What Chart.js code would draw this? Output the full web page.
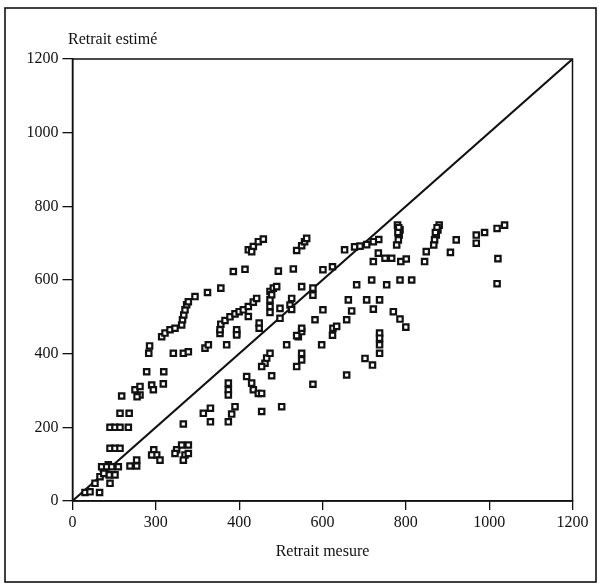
<!DOCTYPE html>
<html>
<head>
<meta charset="utf-8">
<script src="https://cdn.jsdelivr.net/npm/chart.js@4/dist/chart.umd.min.js"></script>
<style>
  html, body { margin: 0; padding: 0; background: #fff; }
  #wrap { width: 599px; height: 587px; }
</style>
</head>
<body>
<div id="wrap"><canvas id="retraitChart" width="599" height="587"></canvas></div>
<script>
// ---------------------------------------------------------
// DATA
// ---------------------------------------------------------
const measured = [
  30, 42, 54, 65, 66, 74, 86, 90, 88, 102, 110, 70, 82, 94, 75,
  90, 102, 114, 90, 102, 114, 134, 114, 136, 118, 138, 154, 154,
  150, 162, 162, 155, 178, 219, 190, 194, 218, 183, 185, 242, 266, 278,
  214, 222, 234, 246, 262, 264, 267, 270, 274, 278, 294, 324, 356, 386, 414,
  195, 202, 210, 190, 250, 262, 278, 270, 266, 246, 278, 266,
  314, 331, 331, 374, 374, 374, 390, 382, 374,
  418, 430, 434, 446, 454, 454, 502, 478, 462, 466, 474,
  538, 550, 550, 542, 550, 514, 577, 598,
  354, 370, 394, 318, 326, 356, 354, 366, 378, 390, 400, 410, 422, 434, 442,
  422, 394, 394, 448, 448,
  422, 434, 446, 458, 430, 538, 550, 557, 562, 494, 530, 601, 624,
  474, 482, 490, 474, 474, 474, 478, 498, 498, 526, 522, 526,
  550, 577, 577, 601, 582, 550, 538, 625, 634, 624,
  658, 670, 662, 682, 718, 754, 786, 814, 706, 737, 722, 770, 786, 800,
  653, 677, 690, 706, 722, 735,
  780, 786, 784, 782, 778, 880, 877, 873, 869, 867, 921, 907, 849, 845,
  734, 750, 766, 722, 788, 801,
  737, 737, 737, 737, 702, 720, 658,
  969, 989, 969, 1019, 1037, 1021, 1019, 454, 783, 875, 781, 871
];
const estimated = [
  23, 25, 48, 23, 66, 89, 98, 48, 71, 71, 93, 93, 93, 93, 75,
  143, 143, 143, 200, 200, 200, 200, 238, 238, 285, 95, 95, 111,
  302, 311, 288, 283, 351, 351, 315, 302, 318, 401, 421, 401, 401, 405,
  446, 456, 465, 469, 478, 492, 505, 519, 533, 541, 555, 566, 578, 623, 629,
  139, 125, 111, 125, 139, 152, 152, 125, 111, 129, 129, 209,
  238, 252, 215, 320, 302, 288, 256, 236, 215,
  338, 320, 302, 292, 292, 243, 256, 340, 374, 388, 401,
  365, 383, 401, 446, 460, 424, 317, 424,
  455, 424, 455, 415, 424, 480, 465, 490, 500, 508, 514, 519, 528, 540, 550,
  501, 465, 451, 483, 469,
  682, 691, 704, 711, 677, 680, 693, 704, 713, 624, 630, 628, 636,
  569, 578, 582, 546, 528, 512, 560, 523, 496, 550, 532, 520,
  582, 578, 559, 519, 492, 469, 449, 469, 474, 450,
  492, 516, 546, 587, 600, 587, 600, 600, 546, 546, 521, 514, 494, 472,
  682, 690, 692, 696, 704, 710,
  749, 736, 722, 709, 695, 749, 736, 722, 709, 695, 709, 675, 677, 650,
  673, 659, 659, 650, 650, 657,
  456, 442, 424, 401, 387, 369, 342,
  722, 729, 700, 740, 749, 658, 590, 365, 742, 742, 729, 729
];

// y = x reference line
const diagonal = [0, 1200];

// axis ticks (the original figure prints "300" under the 200 tick)
const tickValues = [0, 200, 400, 600, 800, 1000, 1200];
const xTickLabels = ['0', '300', '400', '600', '800', '1000', '1200'];
const yTickLabels = ['0', '200', '400', '600', '800', '1000', '1200'];

const yTitle = 'Retrait estimé';
const xTitle = 'Retrait mesure';

// ---------------------------------------------------------
// HELPERS
// ---------------------------------------------------------
const FONT = "'Liberation Serif', 'DejaVu Serif', serif";
const points = measured.map((x, i) => ({ x: x, y: estimated[i] }));
const diagPoints = diagonal.map(v => ({ x: v, y: v }));

// frame round the whole figure, box round the plot, and the two titles
const framePlugin = {
  id: 'frame',
  afterDraw(chart) {
    const ctx = chart.ctx;
    const a = chart.chartArea;
    ctx.save();
    ctx.strokeStyle = '#111';
    ctx.lineWidth = 1.6;
    ctx.strokeRect(5, 8, 591, 574);
    ctx.lineWidth = 1.5;
    ctx.strokeRect(a.left, a.top, a.right - a.left, a.bottom - a.top);

    ctx.fillStyle = '#111';
    ctx.font = '16px ' + FONT;
    ctx.textBaseline = 'middle';
    ctx.textAlign = 'left';
    ctx.fillText(yTitle, 68, 40);
    ctx.textAlign = 'center';
    ctx.fillText(xTitle, (a.left + a.right) / 2, 552);
    ctx.restore();
  }
};

// ---------------------------------------------------------
// CHART
// ---------------------------------------------------------
new Chart(document.getElementById('retraitChart'), {
  type: 'scatter',
  data: {
    datasets: [
      {
        label: 'Retrait',
        data: points,
        pointStyle: 'rect',
        pointRadius: 3.8,
        pointBorderWidth: 2.2,
        pointBorderColor: '#111',
        pointBackgroundColor: '#fff',
        pointHoverRadius: 3.8,
        clip: false
      },
      {
        type: 'line',
        label: 'y = x',
        data: diagPoints,
        borderColor: '#111',
        borderWidth: 2,
        pointRadius: 0,
        fill: false
      }
    ]
  },
  options: {
    responsive: false,
    animation: false,
    layout: { padding: { top: 59, right: 26.5, left: 0, bottom: 0 } },
    plugins: {
      legend: { display: false },
      tooltip: { enabled: false }
    },
    scales: {
      x: {
        type: 'linear',
        min: 0,
        max: 1200,
        afterFit: s => { s.height = 86; },
        afterBuildTicks: s => { s.ticks = tickValues.map(v => ({ value: v })); },
        ticks: {
          color: '#111',
          padding: 3,
          maxRotation: 0,
          font: { family: FONT, size: 16 },
          callback: (v) => xTickLabels[tickValues.indexOf(v)]
        },
        grid: {
          drawOnChartArea: false,
          color: '#111',
          lineWidth: 1.3,
          tickLength: 9
        },
        border: { color: '#111', width: 1.5 }
      },
      y: {
        type: 'linear',
        min: 0,
        max: 1200,
        afterFit: s => { s.width = 72.5; },
        afterBuildTicks: s => { s.ticks = tickValues.map(v => ({ value: v })); },
        ticks: {
          color: '#111',
          padding: 4,
          font: { family: FONT, size: 16 },
          callback: (v) => yTickLabels[tickValues.indexOf(v)]
        },
        grid: {
          drawOnChartArea: false,
          color: '#111',
          lineWidth: 1.3,
          tickLength: 10
        },
        border: { color: '#111', width: 1.5 }
      }
    }
  },
  plugins: [framePlugin]
});
</script>
</body>
</html>
